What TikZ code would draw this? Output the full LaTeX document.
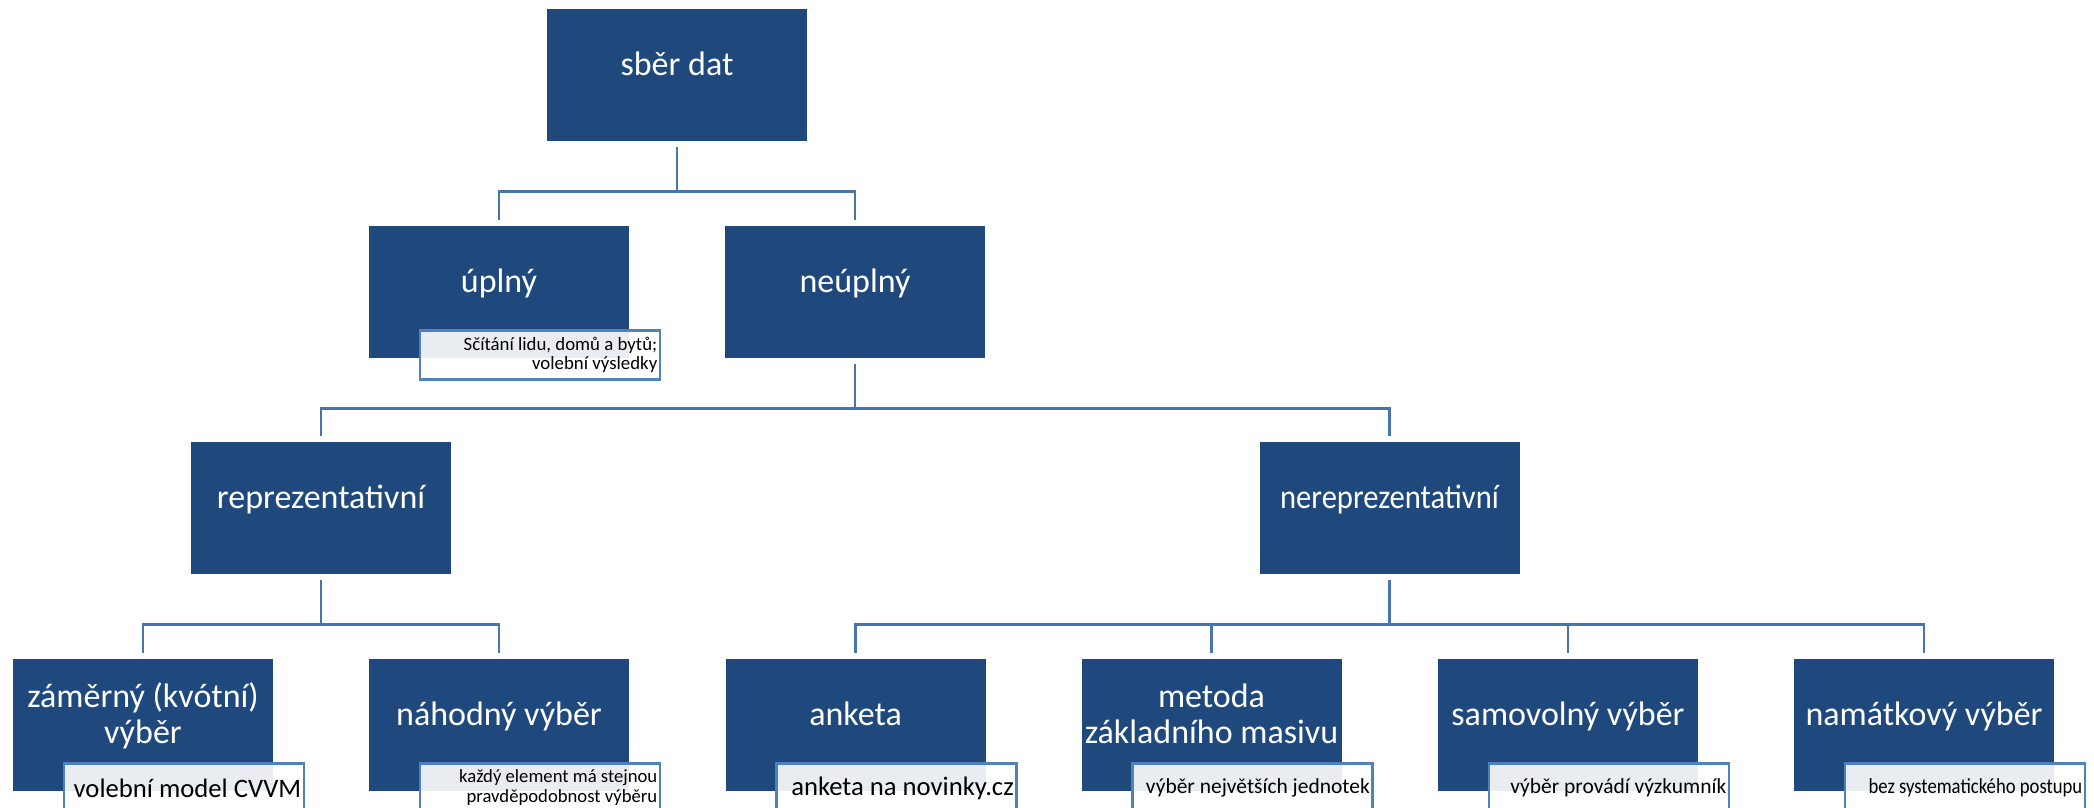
\documentclass[tikz,border=0pt]{standalone}
\usepackage{fontspec}
\setmainfont{Carlito}
\usepackage{graphicx}
\definecolor{boxblue}{HTML}{1F497D}
\definecolor{lineblue}{HTML}{4A74AC}
\definecolor{noteblue}{HTML}{4F81BD}

\begin{document}
\begin{tikzpicture}[x=.75pt, y=-.75pt,
  box/.style={rectangle, fill=boxblue, text=white, minimum width=195pt, minimum height=99pt,
    inner sep=0pt, align=center, font=\fontsize{25.5}{27}\selectfont, text height=0pt, text depth=0pt},
  two/.style={text height=27pt, text depth=0pt},
  note/.style={rectangle, draw=noteblue, line width=1.8pt, fill=white, fill opacity=.9, text opacity=1,
    text=black, text width=176pt, minimum height=36.75pt, inner xsep=2pt, inner ysep=0pt,
    align=flush right, anchor=north west},
  conn/.style={draw=lineblue, line width=2pt}]
 \useasboundingbox (0,0) rectangle (2094,807);
 \clip (0,0) rectangle (2094,807);
 % boxes
 \node (0) [box] at (677,75) {sběr dat};
 \node (1) [box] at (499,292) {úplný};
 \node (2) [box] at (855,292) {neúplný};
 \node (3) [box] at (321,508) {reprezentativní};
 \node (4) [box] at (1389.5,508) {\scalebox{.9}[1]{nereprezentativní}};
 \node (5) [box, two] at (143,725) {záměrný (kvótní)\\výběr};
 \node (6) [box] at (499,725) {náhodný výběr};
 \node (7) [box] at (855.5,725) {anketa};
 \node (8) [box, two] at (1211.5,725) {metoda\\základního masivu};
 \node (9) [box] at (1568,725) {samovolný výběr};
 \node (10) [box] at (1924,725) {namátkový výběr};
 % connectors
 \foreach \p/\c in {0/1,0/2,2/3,2/4,3/5,3/6,4/7,4/8,4/9,4/10}
   \draw[conn] ([yshift=-4.5pt]\p.south) -- ++(0,44) -| ([yshift=4.5pt]\c.north);
 % notes
 \node (1n) [note, font=\fontsize{14.1}{14.3}\selectfont] at ([xshift=37.5pt, yshift=21.75pt]1.south west) {Sčítání lidu, domů a bytů;\\volební výsledky};
 \node (5n) [note, font=\fontsize{20}{21}\selectfont] at ([xshift=37.5pt, yshift=21.75pt]5.south west) {volební model CVVM};
 \node (6n) [note, font=\fontsize{14}{15}\selectfont] at ([xshift=37.5pt, yshift=21.75pt]6.south west) {každý element má stejnou\\pravděpodobnost výběru};
 \node (7n) [note, font=\fontsize{20}{21}\selectfont] at ([xshift=37.5pt, yshift=21.75pt]7.south west) {anketa na novinky.cz};
 \node (8n) [note, font=\fontsize{16.1}{17}\selectfont] at ([xshift=37.5pt, yshift=21.75pt]8.south west) {výběr největších jednotek};
 \node (9n) [note, font=\fontsize{16.1}{17}\selectfont] at ([xshift=37.5pt, yshift=21.75pt]9.south west) {výběr provádí výzkumník};
 \node (10n) [note, font=\fontsize{16.1}{17}\selectfont] at ([xshift=37.5pt, yshift=21.75pt]10.south west) {\scalebox{.87}[1]{bez systematického postupu}};
\end{tikzpicture}
\end{document}
